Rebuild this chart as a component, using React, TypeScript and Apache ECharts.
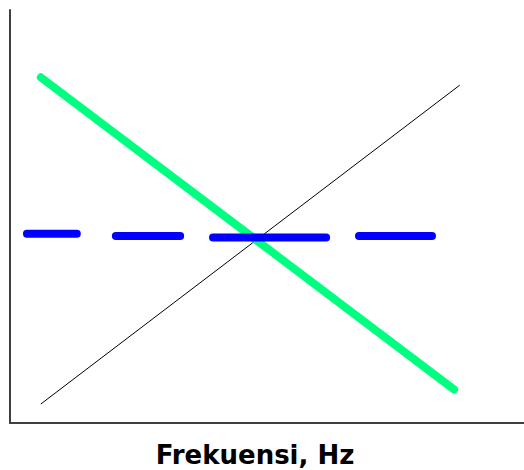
import React, { useEffect, useRef } from "react";
import * as echarts from "echarts";

// Coordinates on an arbitrary 0–100 scale for both axes
const greenLine: [number, number][] = [
  [6.0, 83.7],
  [86.4, 8.1],
];
const blackLine: [number, number][] = [
  [6.0, 4.6],
  [87.5, 81.8],
];
const blueSegments: [number, number][][] = [
  [[3.3, 45.8], [13.0, 45.8]],
  [[20.6, 45.3], [33.1, 45.3]],
  [[39.5, 44.9], [61.5, 44.9]],
  [[67.9, 45.3], [82.1, 45.3]],
];
const xAxisTitle = "Frekuensi, Hz";

export default function App() {
  const ref = useRef<HTMLDivElement>(null);
  useEffect(() => {
    if (!ref.current) return;
    const chart = echarts.init(ref.current, undefined, { renderer: "svg" });
    const axisCommon = {
      type: "value" as const,
      min: 0,
      max: 100,
      axisLine: { show: true, onZero: false, lineStyle: { color: "#404040", width: 2 } },
      axisTick: { show: false },
      axisLabel: { show: false },
      splitLine: { show: false },
    };
    chart.setOption({
      animation: false,
      backgroundColor: "#ffffff",
      grid: { left: 10, right: 0, top: 10, bottom: 47, containLabel: false },
      xAxis: { ...axisCommon },
      yAxis: { ...axisCommon },
      series: [
        {
          type: "line",
          data: blackLine,
          symbol: "none",
          z: 1,
          lineStyle: { color: "#000000", width: 1 },
        },
        {
          type: "line",
          data: greenLine,
          symbol: "none",
          z: 2,
          lineStyle: { color: "#00ff80", width: 8, cap: "round" },
        },
        ...blueSegments.map((seg) => ({
          type: "line",
          data: seg,
          symbol: "none",
          z: 3,
          lineStyle: { color: "#0000ff", width: 8, cap: "round" },
        })),
      ],
      graphic: [
        {
          type: "text",
          x: 255,
          y: 455,
          style: {
            text: xAxisTitle,
            fill: "#000000",
            font: "bold 26px 'DejaVu Sans'",
            textAlign: "center",
            textVerticalAlign: "middle",
          },
        },
      ],
    });
    return () => chart.dispose();
  }, []);
  return <div ref={ref} style={{ width: 524, height: 470, position: "absolute", left: 0, top: 0 }} />;
}
